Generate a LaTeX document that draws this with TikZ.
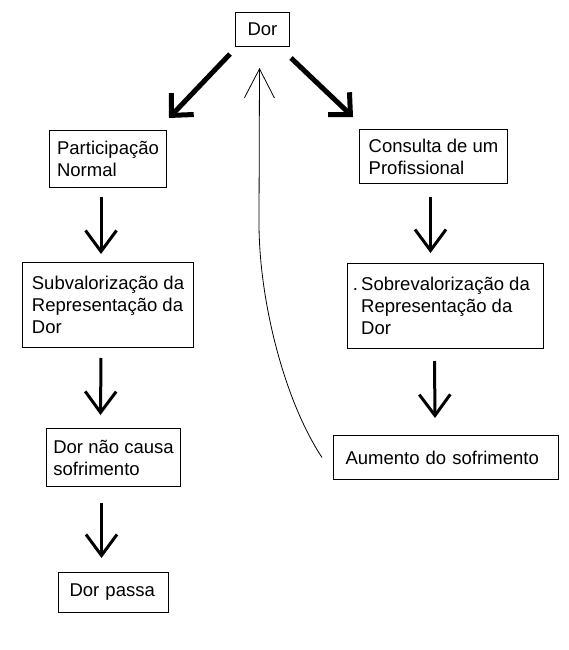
\documentclass[tikz,border=0pt]{standalone}
\usepackage{fontspec}
\setmainfont{Liberation Sans}
\usetikzlibrary{arrows.meta}
\usetikzlibrary{positioning}
\usetikzlibrary{calc}

\begin{document}
\begin{tikzpicture}[
    x=1pt, y=-1pt,
    box/.style={
        draw, line width=1pt,
        anchor=north west,
        inner sep=0pt,
        font=\fontsize{18.5}{22}\selectfont,
        align=left
    },
    flow/.style={-{Straight Barb[length=21pt, width=31pt]}, line width=3pt},
    bigflow/.style={-{Straight Barb[length=16pt, width=31pt]}, line width=5pt},
    backflow/.style={-{Straight Barb[length=29pt, width=30pt]}, line width=0.8pt}
]
\fill[white] (0,0) rectangle (569,650);
\useasboundingbox (0,0) rectangle (569,650);

\node[box, minimum width=54pt, minimum height=34pt, align=center] (dor) at (235,12) {Dor};
\node[box, minimum width=117pt, minimum height=57pt] (part) at (49,130) {Participação\\Normal};
\node[box, minimum width=171pt, minimum height=85pt] (subv) at (22,262) {Subvalorização da\\Representação da\\Dor};
\node[box, minimum width=134pt, minimum height=58pt] (naocausa) at (46,428) {Dor não causa\\sofrimento};
\node[box, inner xsep=11pt, text width=88pt, minimum height=40pt] (passa) at (58,572) {Dor passa};
\node[box, minimum width=148pt, minimum height=54pt] (cons) at (359,129) {Consulta de um\\Profissional};
\node[box, minimum width=196pt, minimum height=85pt] (sobre) at (347,263) {\llap{.\,}Sobrevalorização da\\Representação da\\Dor};
\node[box, inner xsep=12pt, text width=201pt, minimum height=44pt] (aum) at (333,435) {Aumento do sofrimento};

\draw[bigflow] ($(dor.south west)+(-5,7)$) -- ($(part.north east)+(2,-12)$);
\draw[bigflow] ($(dor.south east)+(1,11)$) -- ($(cons.north west)+(-6,-12)$);
\draw[flow] ([xshift=-7pt,yshift=-9pt]part.south) -- ([xshift=-7pt,yshift=8pt]subv.north);
\draw[flow] ([xshift=-7pt,yshift=-10pt]subv.south) -- ([xshift=-13pt,yshift=13pt]naocausa.north);
\draw[flow] ([xshift=-12pt,yshift=-16pt]naocausa.south) -- ([xshift=-12pt,yshift=14pt]passa.north);
\draw[flow] ([xshift=-3pt,yshift=-13pt]cons.south) -- ([xshift=-15pt,yshift=10pt]sobre.north);
\draw[flow] ([xshift=-11pt,yshift=-12pt]sobre.south) -- ([xshift=-11pt,yshift=17pt]aum.north);
\draw[backflow] ([xshift=-11pt]aum.west) .. controls (284,400) and (259,300) .. (259,223) -- ([xshift=-3pt,yshift=-21pt]dor.south);
\end{tikzpicture}
\end{document}
